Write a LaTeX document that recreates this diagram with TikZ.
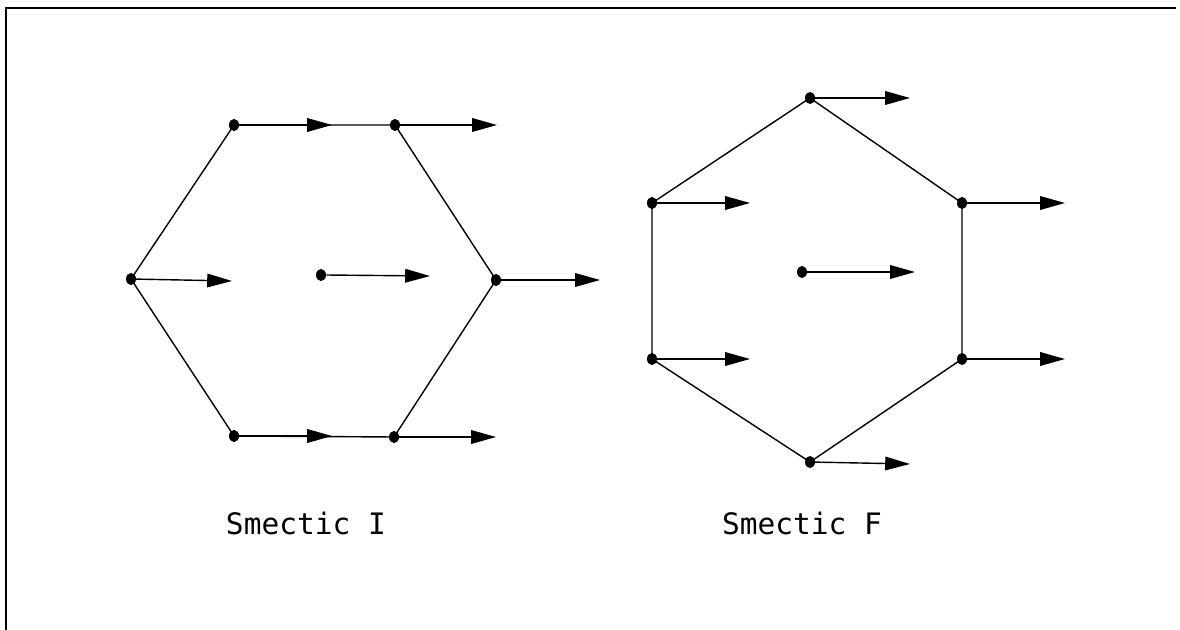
\documentclass[tikz,border=0pt]{standalone}
\usepackage{fontspec}
\newfontfamily\plotfont{DejaVu Sans Mono}
\usetikzlibrary{arrows.meta,shapes.geometric}
\tikzset{
  dot/.style={ellipse,fill=black,inner sep=0pt,minimum width=0.25cm,minimum height=0.3cm},
  edge/.style={line width=1pt},
  vec/.style={line width=1pt,-{Triangle[length=0.62cm,width=0.34cm]}},
  lbl/.style={font=\plotfont\fontsize{21}{24}\selectfont,inner sep=0pt}
}
\begin{document}
\begin{tikzpicture}[x=0.025cm,y=-0.025cm]
\useasboundingbox (0,0) rectangle (1180,630);
\draw[line width=2pt] (6,630) -- (6,8) -- (1176,8);

% Smectic I
\node[dot] (i1) at (234,125) {};
\node[dot] (i2) at (395,125) {};
\node[dot] (i3) at (496,280) {};
\node[dot] (i4) at (394,437) {};
\node[dot] (i5) at (234,436) {};
\node[dot] (i6) at (131,279) {};
\node[dot] (ic) at (321,275) {};
\draw[edge] (i1.center) -- (i2.center) -- (i3.center) -- (i4.center) -- (i5.center) -- (i6.center) -- cycle;
\coordinate (ti1) at (332,125);
\coordinate (ti2) at (497,125);
\coordinate (ti3) at (600,280);
\coordinate (ti4) at (496,437);
\coordinate (ti5) at (332,436);
\coordinate (ti6) at (232,281);
\coordinate (tic) at (430,276);
\draw[vec] (i1.center) -- (ti1);
\draw[vec] (i2.center) -- (ti2);
\draw[vec] (i3.center) -- (ti3);
\draw[vec] (i4.center) -- (ti4);
\draw[vec] (i5.center) -- (ti5);
\draw[vec] (i6.center) -- (ti6);
\draw[vec] (ic.east) -- (tic);

% Smectic F
\node[dot] (f1) at (810,98) {};
\node[dot] (f2) at (962,203) {};
\node[dot] (f3) at (962,359) {};
\node[dot] (f4) at (810,462) {};
\node[dot] (f5) at (652,359) {};
\node[dot] (f6) at (652,203) {};
\node[dot] (fc) at (802,272) {};
\draw[edge] (f1.center) -- (f2.center) -- (f3.center) -- (f4.center) -- (f5.center) -- (f6.center) -- cycle;
\coordinate (tf1) at (910,98);
\coordinate (tf2) at (1065,203);
\coordinate (tf3) at (1065,359);
\coordinate (tf4) at (910,464);
\coordinate (tf5) at (750,359);
\coordinate (tf6) at (750,203);
\coordinate (tfc) at (915,272);
\draw[vec] (f1.center) -- (tf1);
\draw[vec] (f2.center) -- (tf2);
\draw[vec] (f3.center) -- (tf3);
\draw[vec] (f4.center) -- (tf4);
\draw[vec] (f5.center) -- (tf5);
\draw[vec] (f6.center) -- (tf6);
\draw[vec] (fc.east) -- (tfc);

\node[lbl] (li) at (306,523) {Smectic I};
\node[lbl] (lf) at (802,523) {Smectic F};
\end{tikzpicture}
\end{document}
